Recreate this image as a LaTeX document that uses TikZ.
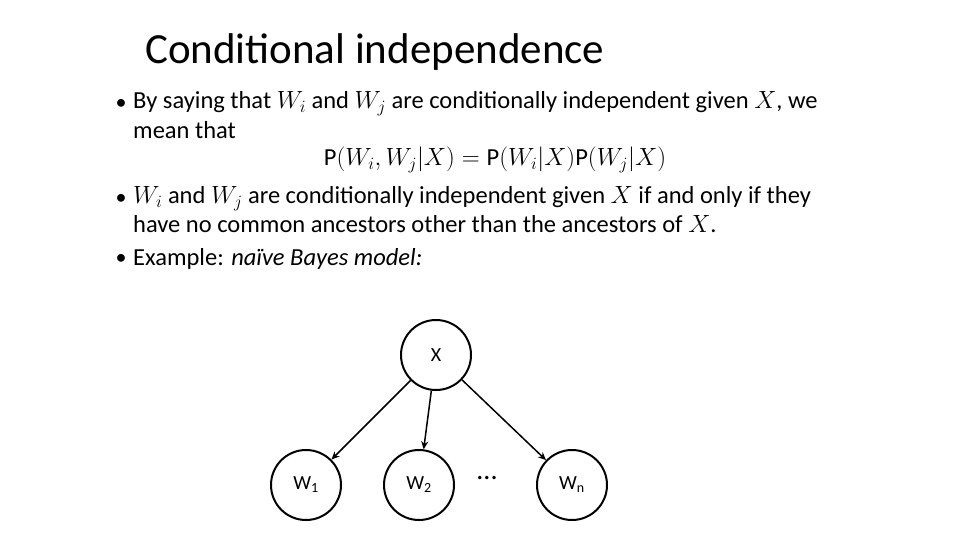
\documentclass[tikz,border=0pt]{standalone}
\usepackage{fontspec}
\setmainfont{Carlito}
\usetikzlibrary{arrows.meta}
\begin{document}
\begin{tikzpicture}[x=1pt,y=-1pt,
  txt/.style={anchor=west,inner sep=0pt,font=\fontsize{24.5}{26}\selectfont},
  bul/.style={anchor=center,inner sep=0pt,font=\fontsize{22}{24}\selectfont},
  vnode/.style={circle,draw,line width=2pt,minimum size=70pt,inner sep=0pt,font=\fontsize{20}{22}\selectfont},
  conn/.style={line width=1.5pt,-{Stealth[length=8pt,width=7pt]}}]
\useasboundingbox (0,0) rectangle (960,540);
\node[anchor=west,inner sep=0pt,font=\fontsize{43}{46}\selectfont] (title) at (145,52) {Conditional independence};
\node[bul] (b1) at (121,104) {•};
\node[txt] (l1) at (133,104) {By saying that $W_i$ and $W_j$ are conditionally independent given $X$, we};
\node[txt] (l2) at (133,130) {mean that};
\node[inner sep=0pt,font=\fontsize{24.5}{26}\selectfont] (f) at (495,160) {$\mathrm{P}\bigl(W_i,W_j|X\bigr)=\mathrm{P}(W_i|X)\mathrm{P}(W_j|X)$};
\node[bul] (b2) at (121,199) {•};
\node[txt] (l3) at (133,199) {$W_i$ and $W_j$ are conditionally independent given $X$ if and only if they};
\node[txt] (l4) at (133,224) {have no common ancestors other than the ancestors of $X$.};
\node[bul] (b3) at (121,259) {•};
\node[txt] (l5) at (133,259) {Example: \textit{naïve Bayes model:}};
\node[vnode] (X) at (436,355) {X};
\node[vnode] (W1) at (306,485) {W\textsubscript{1}};
\node[vnode] (W2) at (419,485) {W\textsubscript{2}};
\node[vnode] (Wn) at (572,485) {W\textsubscript{n}};
\node[inner sep=0pt,font=\fontsize{28}{30}\selectfont] (dots) at (487,478) {...};
\draw[conn] (X) -- (W1);
\draw[conn] (X) -- (W2);
\draw[conn] (X) -- (Wn);
\end{tikzpicture}
\end{document}
